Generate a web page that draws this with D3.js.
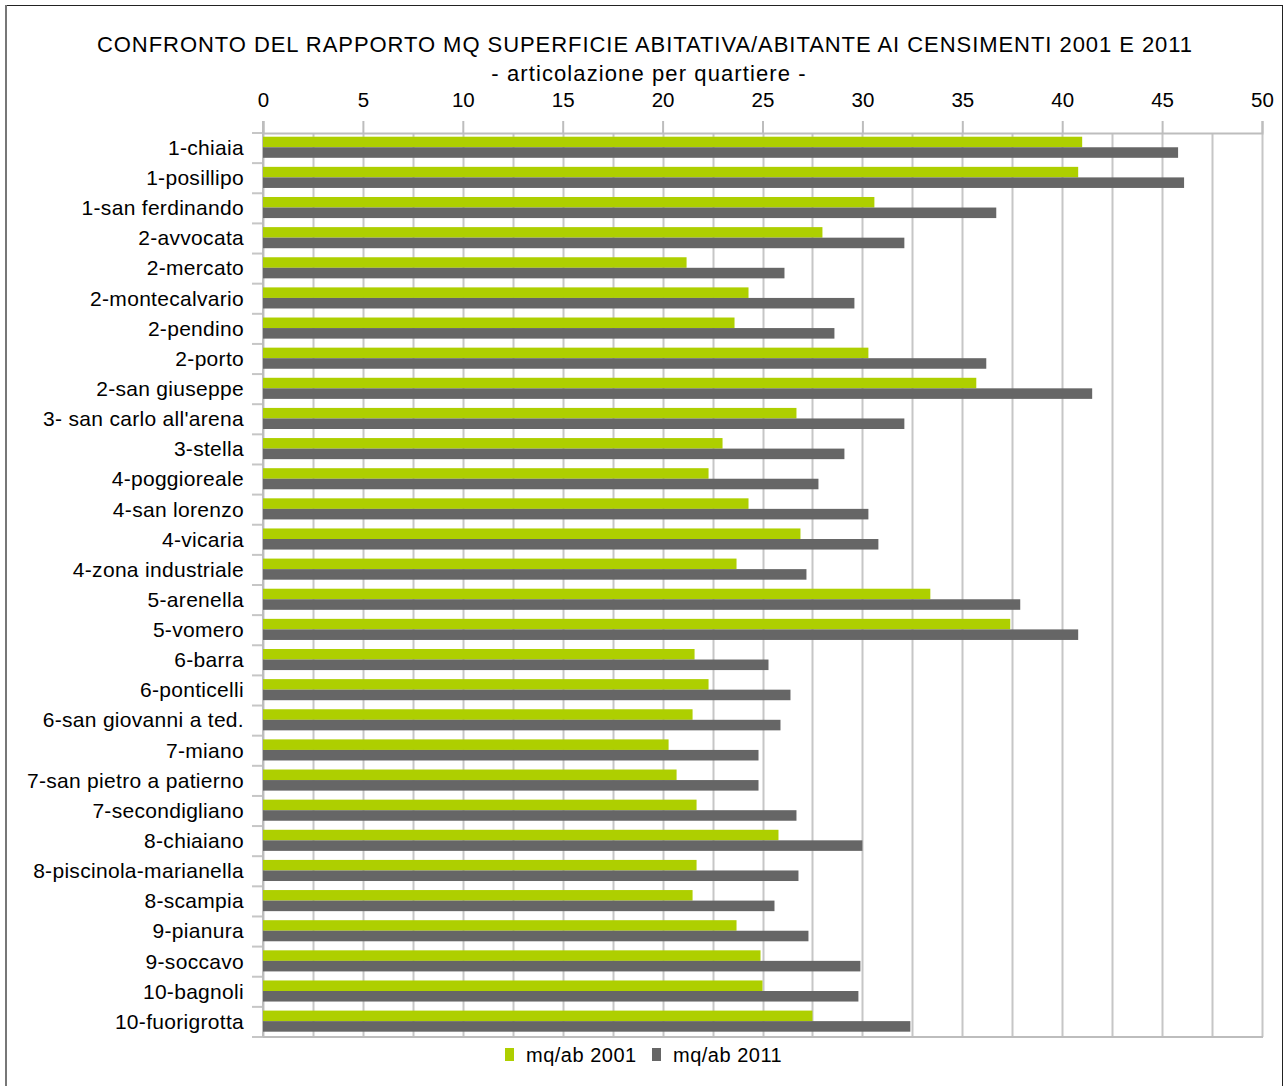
<!DOCTYPE html>
<html>
<head>
<meta charset="utf-8">
<script src="https://cdn.jsdelivr.net/npm/d3@7"></script>
<style>
  html, body { margin: 0; padding: 0; background: #fff; }
  svg { display: block; font-family: "Liberation Sans", Arial, sans-serif; }
</style>
</head>
<body>
<svg id="chart" width="1284" height="1086"></svg>
<script>
const categories = [
  "1-chiaia", "1-posillipo", "1-san ferdinando", "2-avvocata", "2-mercato",
  "2-montecalvario", "2-pendino", "2-porto", "2-san giuseppe", "3- san carlo all'arena",
  "3-stella", "4-poggioreale", "4-san lorenzo", "4-vicaria", "4-zona industriale",
  "5-arenella", "5-vomero", "6-barra", "6-ponticelli", "6-san giovanni a ted.",
  "7-miano", "7-san pietro a patierno", "7-secondigliano", "8-chiaiano", "8-piscinola-marianella",
  "8-scampia", "9-pianura", "9-soccavo", "10-bagnoli", "10-fuorigrotta"
];
const values2001 = [
  41.0, 40.8, 30.6, 28.0, 21.2,
  24.3, 23.6, 30.3, 35.7, 26.7,
  23.0, 22.3, 24.3, 26.9, 23.7,
  33.4, 37.4, 21.6, 22.3, 21.5,
  20.3, 20.7, 21.7, 25.8, 21.7,
  21.5, 23.7, 24.9, 25.0, 27.5
];
const values2011 = [
  45.8, 46.1, 36.7, 32.1, 26.1,
  29.6, 28.6, 36.2, 41.5, 32.1,
  29.1, 27.8, 30.3, 30.8, 27.2,
  37.9, 40.8, 25.3, 26.4, 25.9,
  24.8, 24.8, 26.7, 30.0, 26.8,
  25.6, 27.3, 29.9, 29.8, 32.4
];
const seriesNames = ["mq/ab 2001", "mq/ab 2011"];
const seriesColors = ["#aecf00", "#666666"];
const xTicks = [0, 5, 10, 15, 20, 25, 30, 35, 40, 45, 50];
const gridValues = d3.range(0, 50.01, 2.5);
const titleLines = [
  "CONFRONTO DEL RAPPORTO MQ SUPERFICIE ABITATIVA/ABITANTE AI CENSIMENTI 2001 E 2011",
  "- articolazione per quartiere -"
];

const svg = d3.select("#chart");
const W = 1284, H = 1086;
const plot = { left: 263, right: 1262, top: 133, bottom: 1037 };

// outer frame
svg.append("rect").attr("x", 0).attr("y", 0).attr("width", W).attr("height", H).attr("fill", "#fff");
svg.append("line").attr("x1", 5.5).attr("x2", 1283).attr("y1", 5.5).attr("y2", 5.5)
  .attr("stroke", "#222").attr("stroke-width", 1);
svg.append("line").attr("x1", 6).attr("x2", 6).attr("y1", 5).attr("y2", H)
  .attr("stroke", "#777").attr("stroke-width", 2);
svg.append("line").attr("x1", 1282.5).attr("x2", 1282.5).attr("y1", 5).attr("y2", H)
  .attr("stroke", "#222").attr("stroke-width", 1);

// title
svg.append("text").attr("x", 645).attr("y", 52).attr("text-anchor", "middle")
  .attr("font-size", 22).attr("letter-spacing", 0.95).attr("fill", "#000").text(titleLines[0]);
svg.append("text").attr("x", 649).attr("y", 81).attr("text-anchor", "middle")
  .attr("font-size", 22).attr("letter-spacing", 1.1).attr("fill", "#000").text(titleLines[1]);

const x = d3.scaleLinear().domain([0, 50]).range([plot.left, plot.right]);
const y = d3.scaleBand().domain(categories).range([plot.top, plot.bottom])
  .paddingInner(0.3).paddingOuter(0.15);
const ySub = d3.scaleBand().domain([0, 1]).range([0, y.bandwidth()]);

// gridlines
svg.append("g").selectAll("line").data(gridValues).join("line")
  .attr("x1", d => Math.round(x(d)) + 0.5).attr("x2", d => Math.round(x(d)) + 0.5)
  .attr("y1", plot.top).attr("y2", plot.bottom)
  .attr("stroke", "#c6c6c6").attr("stroke-width", 2);

// top axis
const topAxis = svg.append("g").attr("transform", `translate(0,${plot.top})`)
  .call(d3.axisTop(x).tickValues(xTicks).tickSize(12).tickPadding(14));
topAxis.select(".domain").attr("stroke", "#bdbdbd").attr("stroke-width", 2);
topAxis.selectAll(".tick line").attr("stroke", "#bdbdbd").attr("stroke-width", 2);
topAxis.selectAll(".tick text").attr("font-size", 20.5).attr("fill", "#000")
  .attr("font-family", "'Liberation Sans', Arial, sans-serif");

// bottom axis line
svg.append("line").attr("x1", plot.left - 11).attr("x2", plot.right + 1)
  .attr("y1", plot.bottom).attr("y2", plot.bottom)
  .attr("stroke", "#bdbdbd").attr("stroke-width", 2);

// left category ticks (band boundaries)
const step = y.step();
const boundaries = d3.range(0, categories.length + 1).map(i => plot.top + i * step);
svg.append("g").selectAll("line").data(boundaries).join("line")
  .attr("x1", plot.left - 11).attr("x2", plot.left)
  .attr("y1", d => d).attr("y2", d => d)
  .attr("stroke", "#c6c6c6").attr("stroke-width", 2);
svg.append("line").attr("x1", plot.left).attr("x2", plot.left)
  .attr("y1", plot.top - 12).attr("y2", plot.bottom)
  .attr("stroke", "#bdbdbd").attr("stroke-width", 2);

// bars
const rows = categories.map((c, i) => ({ c, v: [values2001[i], values2011[i]] }));
const g = svg.append("g");
[0, 1].forEach(s => {
  g.selectAll(`rect.s${s}`).data(rows).join("rect")
    .attr("class", `s${s}`)
    .attr("x", x(0))
    .attr("y", d => y(d.c) + ySub(s) - 0.8)
    .attr("width", d => x(d.v[s]) - x(0))
    .attr("height", ySub.bandwidth())
    .attr("fill", seriesColors[s]);
});

// category labels
svg.append("g").selectAll("text").data(categories).join("text")
  .attr("x", 244).attr("y", d => y(d) + y.bandwidth() / 2 - 0.5)
  .attr("dy", "0.35em").attr("text-anchor", "end")
  .attr("font-size", 21).attr("letter-spacing", 0.3).attr("fill", "#000").text(d => d);

// legend
const legend = svg.append("g");
const legendX = [505, 652];
seriesNames.forEach((n, i) => {
  legend.append("rect").attr("x", legendX[i]).attr("y", 1048).attr("width", 9).attr("height", 13)
    .attr("fill", seriesColors[i]);
  legend.append("text").attr("x", legendX[i] + 21).attr("y", 1062)
    .attr("font-size", 20).attr("letter-spacing", 0.5).attr("fill", "#000").text(n);
});
</script>
</body>
</html>
